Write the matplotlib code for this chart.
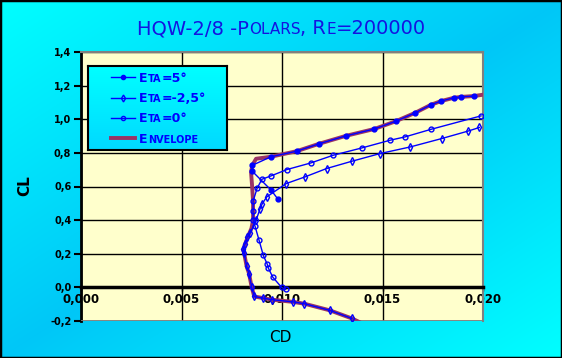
import numpy as np
import matplotlib
matplotlib.use('Agg')
import matplotlib.pyplot as plt
from matplotlib.ticker import FuncFormatter
from matplotlib.patches import Rectangle

# polar data (CD, CL)
eta5_cd = [0.00980, 0.00947, 0.00851, 0.00852, 0.00945, 0.01073, 0.01184, 0.01317, 0.01459,
           0.01566, 0.01662, 0.01741, 0.01791, 0.01856, 0.01891, 0.01955]
eta5_cl = [0.524, 0.577, 0.692, 0.726, 0.777, 0.810, 0.854, 0.901, 0.942,
           0.988, 1.038, 1.086, 1.108, 1.128, 1.133, 1.138]

eta_m25_cd = [0.01348, 0.01239, 0.01111, 0.01053, 0.00949, 0.00907, 0.00862, 0.00849, 0.00836,
              0.00824, 0.00811, 0.00807, 0.00816, 0.00827, 0.00841, 0.00871, 0.00891, 0.00902,
              0.00924, 0.01020, 0.01114, 0.01222, 0.01347, 0.01488, 0.01637, 0.01794, 0.01924, 0.01982]
eta_m25_cl = [-0.185, -0.137, -0.097, -0.086, -0.073, -0.064, -0.054, 0.002, 0.082,
              0.125, 0.207, 0.230, 0.256, 0.298, 0.321, 0.399, 0.468, 0.498,
              0.538, 0.617, 0.657, 0.707, 0.750, 0.796, 0.835, 0.885, 0.929, 0.951]

eta0_cd = [0.01018, 0.00998, 0.00954, 0.00932, 0.00927, 0.00907, 0.00886, 0.00866, 0.00856,
           0.00856, 0.00856, 0.00876, 0.00900, 0.00945, 0.01025, 0.01143, 0.01255, 0.01396,
           0.01537, 0.01612, 0.01741, 0.01990]
eta0_cl = [-0.012, 0.000, 0.061, 0.115, 0.137, 0.190, 0.280, 0.363, 0.399,
           0.452, 0.512, 0.589, 0.643, 0.663, 0.701, 0.740, 0.786, 0.829,
           0.875, 0.895, 0.940, 1.020]

env_cd = [0.02000, 0.01955, 0.01891, 0.01856, 0.01791, 0.01741, 0.01662, 0.01566, 0.01459,
          0.01317, 0.01184, 0.01073, 0.00945, 0.00871, 0.00852, 0.00846, 0.00851, 0.00856,
          0.00856, 0.00856, 0.00848, 0.00831, 0.00816, 0.00807, 0.00811, 0.00824, 0.00836,
          0.00849, 0.00862, 0.00907, 0.00949, 0.01053, 0.01111, 0.01239, 0.01348, 0.01398]
env_cl = [1.146, 1.138, 1.133, 1.128, 1.108, 1.086, 1.038, 0.988, 0.942,
          0.901, 0.854, 0.810, 0.777, 0.765, 0.726, 0.685, 0.607, 0.512,
          0.452, 0.399, 0.351, 0.304, 0.256, 0.220, 0.207, 0.125, 0.082,
          0.002, -0.054, -0.064, -0.073, -0.086, -0.097, -0.137, -0.185, -0.214]

W, H = 562, 358
BLUE = '#0000ff'
ENV = '#993366'
TXT = '#1414e0'

fig = plt.figure(figsize=(W / 100, H / 100), dpi=100)

# background: diagonal cyan gradient
bg = fig.add_axes([0, 0, 1, 1])
bg.axis('off')
yy, xx = np.mgrid[0:1:H * 1j, 0:1:W * 1j]
u = np.abs(xx + yy - 1)[..., None]
c1 = np.array([0.0, 0.78, 0.97])
c2 = np.array([0.0, 1.0, 1.0])
bg.imshow(c1 + u * (c2 - c1), extent=[0, 1, 0, 1], aspect='auto', origin='upper')
bg.set_xlim(0, 1)
bg.set_ylim(0, 1)
bg.add_patch(Rectangle((0, 0), 1, 1, fill=False, edgecolor='black', lw=2.5,
                       transform=bg.transAxes))


def small_caps(host, x, y, pieces, coords, **kw):
    # pieces: list of (text, size); chained along one baseline
    t = host.text(x, y, pieces[0][0], fontsize=pieces[0][1], va='baseline', ha='left',
                  transform=host.transAxes, **kw)
    for s, sz in pieces[1:]:
        t = host.annotate(s, xy=(1, y), xycoords=(t, coords), fontsize=sz,
                          va='baseline', ha='left', **kw)
    return t


small_caps(bg, 137 / W, 1 - 34.5 / H,
           [('HQW-2/8 -P', 14), ('OLARS', 11), (', R', 14), ('E', 11), ('=200000', 14)],
           'axes fraction', color=TXT)

# main plot
ax = fig.add_axes([81 / W, 1 - 321 / H, 402 / W, 269 / H])
ax.set_facecolor('#ffffcc')
ax.set_xlim(0, 0.02)
ax.set_ylim(-0.2, 1.4)
ax.set_xticks([0, 0.005, 0.010, 0.015, 0.020])
ax.set_yticks([-0.2, 0.0, 0.2, 0.4, 0.6, 0.8, 1.0, 1.2, 1.4])
ax.xaxis.set_major_formatter(FuncFormatter(lambda v, p: f"{v:.3f}".replace('.', ',')))
ax.yaxis.set_major_formatter(FuncFormatter(lambda v, p: f"{v:.1f}".replace('.', ',')))
ax.grid(True, color='black', lw=1)
ax.set_axisbelow(True)

ax.spines['bottom'].set_position(('data', 0))
ax.spines['bottom'].set_linewidth(2.5)
ax.spines['left'].set_linewidth(2)
for s in ['top', 'right']:
    ax.spines[s].set_color('#808080')
    ax.spines[s].set_linewidth(1.5)
ax.axhline(-0.2, color='#808080', lw=2, zorder=2.6)

ax.tick_params(axis='y', direction='out', length=5, width=1.5, labelsize=7, pad=2)
ax.tick_params(axis='x', direction='out', length=3, width=1, labelsize=8.5, pad=1)
plt.setp(ax.get_yticklabels(), fontweight='bold')
plt.setp(ax.get_xticklabels(), fontweight='bold')

ax.plot(env_cd, env_cl, color=ENV, lw=2.8, zorder=3)
ax.plot(eta5_cd, eta5_cl, color=BLUE, lw=1, marker='o', ms=3.5, mfc=BLUE, mec=BLUE, zorder=4)
ax.plot(eta_m25_cd, eta_m25_cl, color=BLUE, lw=1, marker='d', ms=4, mfc='none', mec=BLUE,
        mew=1, zorder=4)
ax.plot(eta0_cd, eta0_cl, color=BLUE, lw=1, marker='o', ms=3.5, mfc='none', mec=BLUE, mew=1,
        zorder=4)

fig.text(25 / W, 1 - 186 / H, 'CL', rotation=90, ha='center', va='center',
         fontsize=11, fontweight='bold')
fig.text(280 / W, 1 - 337 / H, 'CD', ha='center', va='center', fontsize=11)

# legend box
leg = fig.add_axes([88 / W, 1 - 150 / H, 139 / W, 84 / H])
gy = np.linspace(0, 1, 60)[:, None, None]
top = np.array([0.0, 1.0, 1.0])
bot = np.array([0.0, 0.85, 1.0])
leg.imshow(top + gy * (bot - top) * np.ones((1, 2, 1)), extent=[0, 1, 0, 1],
           aspect='auto', origin='upper')
leg.set_xlim(0, 1)
leg.set_ylim(0, 1)
leg.set_xticks([])
leg.set_yticks([])
for s in leg.spines.values():
    s.set_linewidth(1.5)

rows = [0.865, 0.623, 0.385, 0.139]
leg.plot([0.163, 0.25, 0.338], [rows[0]] * 3, color=BLUE, lw=1, marker='o', ms=3,
         markevery=[1], mfc=BLUE)
leg.plot([0.163, 0.25, 0.338], [rows[1]] * 3, color=BLUE, lw=1, marker='d', ms=3.5,
         markevery=[1], mfc='none')
leg.plot([0.163, 0.25, 0.338], [rows[2]] * 3, color=BLUE, lw=1, marker='o', ms=3,
         markevery=[1], mfc='none')
leg.plot([0.163, 0.338], [rows[3]] * 2, color=ENV, lw=2.8)

labels = [[('E', 9), ('TA', 7), ('=5°', 9)],
          [('E', 9), ('TA', 7), ('=-2,5°', 9)],
          [('E', 9), ('TA', 7), ('=0°', 9)],
          [('E', 9), ('NVELOPE', 7)]]
for r, pcs in zip(rows, labels):
    small_caps(leg, 0.369, r - 0.055, pcs, 'axes fraction', color=BLUE, fontweight='bold')

fig.savefig('out.png', dpi=100)
